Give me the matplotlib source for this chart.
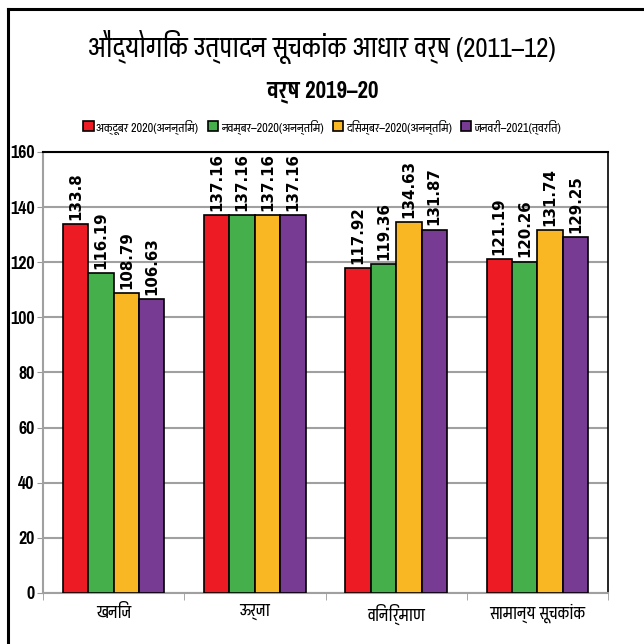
import matplotlib
matplotlib.use("Agg")
import matplotlib.pyplot as plt
import numpy as np
from matplotlib.lines import Line2D

hindi = ["Pragati Narrow", "DejaVu Sans"]

categories = ["खनिज", "ऊर्जा", "विनिर्माण", "सामान्य सूचकांक"]
series_names = ["अक्टूबर 2020(अनन्तिम)", "नवम्बर–2020(अनन्तिम)",
                "दिसम्बर–2020(अनन्तिम)", "जनवरी–2021(त्वरित)"]
oct_2020 = [133.8, 137.16, 117.92, 121.19]
nov_2020 = [116.19, 137.16, 119.36, 120.26]
dec_2020 = [108.79, 137.16, 134.63, 131.74]
jan_2021 = [106.63, 137.16, 131.87, 129.25]
colors = ["#ED1C24", "#45B04B", "#F9B723", "#773B94"]
y_ticks = [0, 20, 40, 60, 80, 100, 120, 140, 160]

fig = plt.figure(figsize=(6.44, 6.44), dpi=100)
ax = fig.add_axes([0.0668, 0.0792, 0.8773, 0.6848])

x = np.arange(len(categories))
width = 0.18
all_series = [oct_2020, nov_2020, dec_2020, jan_2021]
for i, vals in enumerate(all_series):
    bars = ax.bar(x + (i - 1.5) * width, vals, width, color=colors[i],
                  edgecolor="black", linewidth=1.2, label=series_names[i], zorder=3)
    ax.bar_label(bars, labels=[f"{v:g}" for v in vals], rotation=90, padding=3,
                 fontsize=10.8, fontweight="bold", family="DejaVu Sans")

ax.set_xlim(-0.5, len(categories) - 0.5)
ax.set_ylim(0, 160)
ax.set_yticks(y_ticks)
ax.set_yticklabels([str(t) for t in y_ticks], fontsize=14, fontweight="bold", family=hindi)
ax.set_xticks(x)
ax.set_xticklabels(categories, fontsize=13, family=hindi)
ax.tick_params(axis="x", length=0, pad=8)
ax.set_xticks(np.arange(len(categories) + 1) - 0.5, minor=True)
ax.tick_params(axis="x", which="minor", length=5, color="#999999")
ax.tick_params(axis="y", length=4, color="#999999", pad=2)
ax.yaxis.grid(True, color="#A0A0A0", linewidth=1.5, zorder=0)
ax.set_axisbelow(True)
ax.spines["left"].set_color("#A0A0A0")
ax.spines["bottom"].set_color("#A0A0A0")
ax.spines["left"].set_linewidth(1.5)
ax.spines["bottom"].set_linewidth(1.5)
ax.spines["top"].set_linewidth(1.5)
ax.spines["right"].set_linewidth(1.2)

fig.text(0.5, 0.927, "औद्योगिक उत्पादन सूचकांक आधार वर्ष (2011–12)",
         ha="center", va="center", fontsize=21, family=hindi)
fig.text(0.5, 0.857, "वर्ष 2019–20", ha="center", va="center",
         fontsize=18, fontweight="bold", family=hindi)

fig.legend(loc="center", bbox_to_anchor=(0.5, 0.804), ncol=4, frameon=False,
           prop={"family": hindi, "size": 9.5}, handlelength=0.8, handleheight=0.8,
           handletextpad=0.2, columnspacing=0.7)

# outer frame, left and top edges only
fig.add_artist(Line2D([8 / 644, 8 / 644], [0, 1 - 9 / 644], color="black",
                      linewidth=2.2, transform=fig.transFigure))
fig.add_artist(Line2D([8 / 644, 1], [1 - 9 / 644, 1 - 9 / 644], color="black",
                      linewidth=2.2, transform=fig.transFigure))

fig.savefig("out.png")
